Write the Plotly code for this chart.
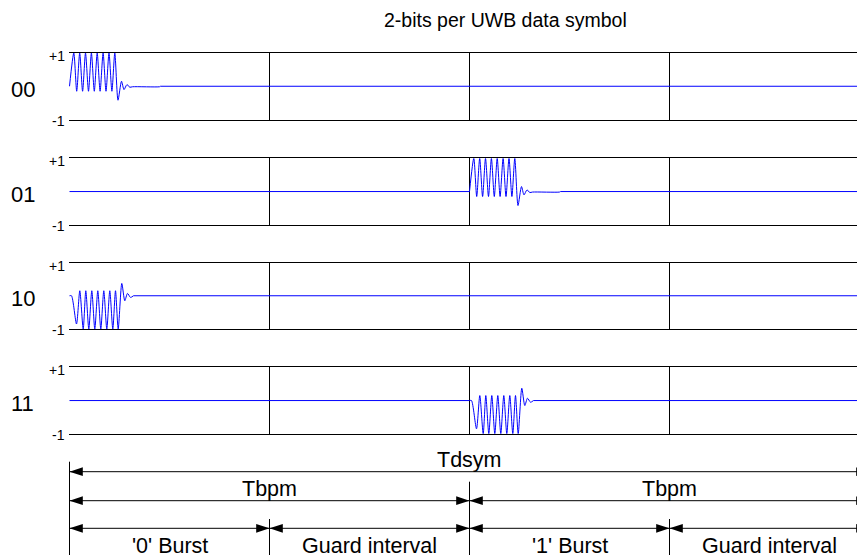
import plotly.graph_objects as go

# ---------------- data ----------------
# time in "slots": one slot = one burst or guard interval (symbol = 4 slots)
slot_edges = [0, 1, 2, 3, 4]
slot_names = ["'0' Burst", "Guard interval", "'1' Burst", "Guard interval"]
row_labels = ["00", "01", "10", "11"]
burst_slot = [0, 2, 0, 2]          # slot where the burst is transmitted
burst_sign = ["pos", "pos", "neg", "neg"]

# burst waveform (time offset within slot, amplitude)
pos_t = [0.0, 0.0215, 0.036, 0.051, 0.0655, 0.080, 0.095, 0.1095, 0.124, 0.1385,
         0.153, 0.168, 0.1825, 0.1975, 0.212, 0.2265, 0.2425, 0.26, 0.2725,
         0.2875, 0.3015, 0.315, 0.45, 0.455]
pos_v = [0.0, 1.0, -0.15, 1.0, -0.15, 1.0, -0.15, 1.0, -0.15, 1.0,
         -0.15, 1.0, -0.15, 1.0, -0.15, 1.0, -0.42, 0.15, -0.10,
         0.05, -0.03, -0.015, -0.015, 0.0]
neg_t = [0.0, 0.01, 0.035, 0.0515, 0.0685, 0.0815, 0.0965, 0.1115, 0.1265, 0.1415,
         0.1565, 0.1715, 0.1865, 0.2015, 0.2165, 0.23, 0.2435, 0.2615, 0.2765,
         0.29, 0.305, 0.32]
neg_v = [0.0, 0.0, -0.85, 0.15, -1.0, 0.15, -1.0, 0.15, -1.0, 0.15,
         -1.0, 0.15, -1.0, 0.15, -1.0, 0.15, -1.0, 0.37, -0.15,
         0.07, -0.05, 0.0]
templates = {"pos": (pos_t, pos_v), "neg": (neg_t, neg_v)}

# dimension rows: labels and slot boundaries
dim_rows = [
    {"labels": ["Tdsym"], "edges": [0, 4]},
    {"labels": ["Tbpm", "Tbpm"], "edges": [0, 2, 4]},
    {"labels": slot_names, "edges": [0, 1, 2, 3, 4]},
]

# ---------------- layout constants ----------------
W, H = 857, 555
L = 69
px_per_slot = 200
x_view = [-0.5 / px_per_slot, (W - L - 0.5) / px_per_slot]
panel_top = [53, 158.3, 262.5, 367.3]
panel_h = 66.5
dim_line_y = [471.7, 500.7, 528.3]
dim_text_y = [460, 489, 545.5]
ext_top = {0: 461.7, 2: 481.7, 1: 519, 3: 519}
FONT = "Liberation Sans, Arial, sans-serif"
BLUE = "#0000ff"

fig = go.Figure()
layout = dict(
    width=W, height=H, margin=dict(l=L, r=0, t=0, b=0),
    paper_bgcolor="white", plot_bgcolor="white", showlegend=False,
    font=dict(family=FONT, color="black"),
)
annotations = []

for i in range(4):
    sfx = "" if i == 0 else str(i + 1)
    xa, ya = "x" + sfx, "y" + sfx
    t_tpl, v_tpl = templates[burst_sign[i]]
    s = burst_slot[i]
    # flat baseline before and after the burst
    if s > slot_edges[0]:
        fig.add_trace(go.Scatter(
            x=[slot_edges[0], s], y=[0, 0], mode="lines", xaxis=xa, yaxis=ya,
            line=dict(color=BLUE, width=1), hoverinfo="skip"))
    fig.add_trace(go.Scatter(
        x=[s + t_tpl[-1], slot_edges[-1]], y=[v_tpl[-1], v_tpl[-1]],
        mode="lines", xaxis=xa, yaxis=ya,
        line=dict(color=BLUE, width=1), hoverinfo="skip"))
    # the burst itself
    fig.add_trace(go.Scatter(
        x=[s + t for t in t_tpl], y=list(v_tpl), mode="lines",
        xaxis=xa, yaxis=ya,
        line=dict(color=BLUE, width=1, shape="spline", smoothing=0.7),
        hoverinfo="skip"))
    top = panel_top[i]
    bot = top + panel_h
    layout["yaxis" + sfx] = dict(
        domain=[1 - bot / H, 1 - top / H], range=[-1, 1], anchor=xa,
        showgrid=False, zeroline=False, showticklabels=False, ticks="",
        showline=False)
    layout["xaxis" + sfx] = dict(
        range=x_view, anchor=ya, showline=True, mirror=True,
        linecolor="black", linewidth=1, tickvals=slot_edges[:-1],
        showgrid=True, gridcolor="black", gridwidth=1,
        showticklabels=False, ticks="", zeroline=False)
    annotations.append(dict(
        text=row_labels[i], xref="paper", yref=ya, x=0, y=0,
        xanchor="center", yanchor="middle", xshift=-46.5, yshift=-3,
        showarrow=False, font=dict(size=22, family=FONT, color="black")))
    annotations.append(dict(
        text="+1", xref="paper", yref=ya, x=0, y=1,
        xanchor="right", yanchor="middle", xshift=-2, yshift=-3,
        showarrow=False, font=dict(size=14, family=FONT, color="black")))
    annotations.append(dict(
        text="-1", xref="paper", yref=ya, x=0, y=-1,
        xanchor="right", yanchor="middle", xshift=-2, yshift=-1,
        showarrow=False, font=dict(size=14, family=FONT, color="black")))

# bottom dimension area (y measured in pixels from the top)
layout["xaxis5"] = dict(range=x_view, anchor="y5", visible=False)
layout["yaxis5"] = dict(domain=[0, (H - 440) / H], range=[H, 440],
                        anchor="x5", visible=False)

for x0, yt in ext_top.items():
    fig.add_trace(go.Scatter(
        x=[x0, x0], y=[yt, H], mode="lines", xaxis="x5", yaxis="y5",
        line=dict(color="black", width=1), hoverinfo="skip"))

for r, row in enumerate(dim_rows):
    e = row["edges"]
    yl = dim_line_y[r]
    fig.add_trace(go.Scatter(
        x=[e[0], e[-1]], y=[yl, yl], mode="lines", xaxis="x5", yaxis="y5",
        line=dict(color="black", width=1), hoverinfo="skip"))
    ax, ang = [], []
    for a, b in zip(e[:-1], e[1:]):
        ax += [a, b]
        ang += [-90, 90]
    fig.add_trace(go.Scatter(
        x=ax, y=[yl] * len(ax), mode="markers", xaxis="x5", yaxis="y5",
        marker=dict(symbol="arrow", size=14, angle=ang, color="black",
                    line=dict(width=0)),
        hoverinfo="skip"))
    for k, lab in enumerate(row["labels"]):
        annotations.append(dict(
            text=lab, xref="x5", yref="y5",
            x=(e[k] + e[k + 1]) / 2, y=dim_text_y[r],
            xanchor="center", yanchor="middle", showarrow=False,
            font=dict(size=21.5, family=FONT, color="black")))

annotations.append(dict(
    text="2-bits per UWB data symbol", xref="paper", yref="paper",
    x=(505 - L) / (W - L), y=1 - 20 / H, xanchor="center", yanchor="middle",
    showarrow=False, font=dict(size=19.5, family=FONT, color="black")))

layout["annotations"] = annotations
fig.update_layout(**layout)
fig.write_html("out.html")
